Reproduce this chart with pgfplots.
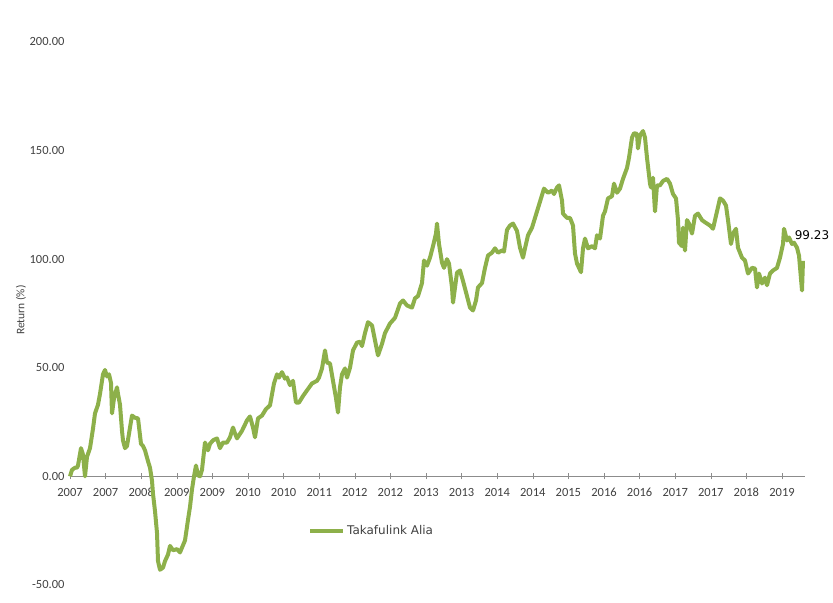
\documentclass[border=0pt]{standalone}
\usepackage{fontspec}
\setmainfont{Carlito}
\newfontfamily\dejavu{DejaVu Sans}
\usepackage{pgfplots}
\pgfplotsset{compat=1.18}
\definecolor{lc}{HTML}{8DB04A}
\definecolor{tc}{HTML}{404040}
\definecolor{ac}{HTML}{8C8C8C}
\begin{document}
\begin{tikzpicture}
\begin{axis}[
  scale only axis, width=735pt, height=543pt,
  xmin=70, xmax=805, ymin=-50, ymax=200,
  axis x line*=middle, axis y line*=left,
  y axis line style={draw=none},
  x axis line style={draw=ac, line width=0.8pt},
  hide obscured x ticks=false,
  xtick={70,105.6,141.2,176.8,212.4,248,283.6,319.2,354.8,390.4,426,461.6,497.2,532.8,568.4,604,639.6,675.2,710.8,746.4,782},
  xticklabels={2007,2007,2008,2009,2009,2010,2010,2011,2012,2012,2013,2013,2014,2014,2015,2016,2016,2017,2017,2018,2019},
  ytick={-50,0,50,100,150,200},
  major y tick style={draw=none},
  major x tick style={draw=ac, line width=0.6pt},
  tick align=center, major tick length=6pt,
  /pgf/number format/assume math mode=true,
  yticklabel={\pgfmathprintnumber[fixed,fixed zerofill,precision=2]{\tick}},
  tick label style={font=\fontsize{12.5}{14}\selectfont, text=tc},
  yticklabel style={xshift=1pt},
  xticklabel style={yshift=-5pt},
  ylabel={Return (\%)},
  ylabel style={at={(rel axis cs:-0.0667,0.5064)}, anchor=center, font=\fontsize{11.5}{13}\selectfont, text=tc},
  clip=false,
  legend image code/.code={\draw[#1] (0pt,0pt) -- (33pt,0pt);},
  legend style={at={(axis cs:308,-25)}, anchor=west, draw=none, fill=none,
    font=\dejavu\fontsize{12}{14}\selectfont, text=tc, inner sep=0pt},
]
\addplot[color=lc, line width=4pt, line join=round] coordinates {
(70,0) (72,3) (75,4) (77,4) (78,5) (81,13) (83,10) (85,0) (87,9) (90,13)
(93,22) (95,29) (98,33) (100,38) (103,47) (105,49) (107,46) (109,47) (111,43) (112,29)
(114,36) (117,41) (118,38) (120,33) (122,21) (123,16.5) (125,13) (127,14) (130,22.5) (132,28)
(135,27) (138,26.7) (141,15) (143,14) (145,12) (148,7) (150,4) (152,-2) (153,-8) (155,-16)
(157,-26) (158,-39) (160,-43) (163,-42) (165,-39) (168,-36) (170,-32) (173,-34) (177,-33.5) (180,-35)
(185,-29.5) (188,-20) (190,-14) (192,-6) (194,0) (196,5) (198,0.5) (200,0) (202,3) (205,15.6)
(208,12) (210,15) (213,16.6) (217,17.5) (220,13) (223,15.6) (227,15.6) (230,18) (233,22.5) (235,19.8)
(237,17.5) (242,21) (247,25.8) (250,27.6) (253,22.5) (255,18) (258,26.7) (262,28) (266,31) (270,32.7)
(274,42.8) (277,47) (279,45.5) (282,48) (285,45) (287,45.5) (290,42) (293,44) (296,34) (299,34)
(303,37) (307,39.6) (312,42.8) (317,44) (319,45.5) (322,49.7) (325,58) (327,52.4) (330,52) (333,44)
(336,36) (338,29.4) (340,41) (342,47) (345,49.7) (347,45.5) (350,50) (353,58) (357,61.6) (360,62)
(362,60) (365,66) (368,71) (372,69.5) (375,62.6) (378,55.7) (382,61) (385,66) (390,70.4) (395,73)
(400,79.6) (403,81) (407,78.7) (412,77.7) (415,82) (418,83) (422,89) (424,99.4) (427,97) (430,100.7)
(433,106) (436,111.8) (437,116.4) (439,107) (442,98.4) (444,96) (447,100) (449,98) (452,87) (453,80)
(457,93.8) (460,94.8) (463,90) (467,83) (470,77.7) (473,76.4) (476,81) (478,87) (482,89) (485,96)
(488,101.7) (492,103) (495,105) (498,103) (502,104) (504,103.5) (507,113.5) (510,115.5) (513,116.4) (517,113)
(520,105.3) (523,100.7) (525,105) (528,111) (532,114.5) (535,119) (537,122) (541,128) (544,132.5) (548,130.6)
(552,131.6) (554,130) (557,133) (559,134) (562,127) (563,121) (567,119) (570,119) (573,115.5) (575,102.6)
(577,98) (579,96) (581,94) (583,105) (585,109.5) (588,105) (592,106) (595,105) (597,111) (600,109.5)
(603,120) (605,122) (608,128) (612,129) (614,134.8) (617,130.6) (620,132.5) (623,137) (627,142) (629,146.7)
(632,156) (634,158) (637,157.7) (638,151) (640,157) (643,159) (645,156) (647,146.7) (650,134.8) (651,133)
(653,137.5) (655,122) (657,134) (660,134) (663,136) (667,137) (670,134.8) (673,130) (676,128) (678,118)
(679,107.6) (682,106) (683,114.5) (685,104) (687,118) (689,116.4) (692,111.8) (695,120) (698,121) (702,118)
(705,117) (710,115.5) (713,114) (717,122) (720,128) (723,127) (726,124.7) (728,118) (731,107) (733,111.8)
(736,114) (738,105.3) (742,100.7) (745,99.4) (748,93.4) (752,96) (755,95.7) (757,87) (759,93.4) (762,88.8)
(765,91.5) (767,88) (770,93.4) (773,94.8) (777,96) (780,100.7) (783,107) (784,114) (787,108.6) (789,110)
(792,107) (794,107.6) (797,105.3) (799,101.7) (802,85.6) (803,99.23)
};
\addlegendentry{Takafulink Alia}
\node[font=\dejavu\fontsize{12}{14}\selectfont, text=black] at (axis cs:812,110.9) {99.23};
\coordinate (bl) at (rel axis cs:-0.09524,-0.03315);
\coordinate (tr) at (rel axis cs:1.03810,1.07735);
\end{axis}
\pgfresetboundingbox
\path[use as bounding box] (bl) rectangle (tr);
\end{tikzpicture}
\end{document}
